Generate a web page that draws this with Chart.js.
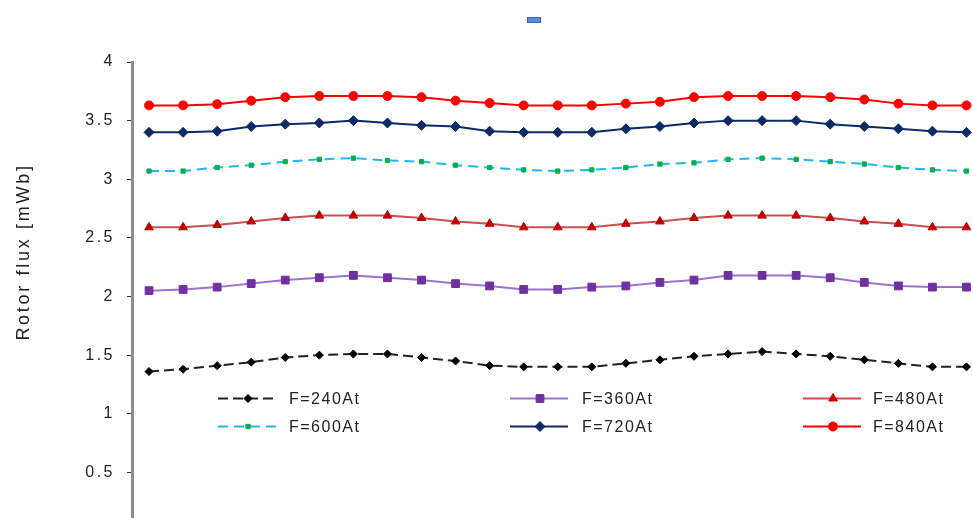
<!DOCTYPE html>
<html>
<head>
<meta charset="utf-8">
<script src="https://cdn.jsdelivr.net/npm/chart.js@4/dist/chart.umd.min.js"></script>
<style>
    html, body { margin: 0; padding: 0; background: #fff; overflow: hidden; }
    #wrap { width: 990px; height: 560px; }
</style>
</head>
<body>
<div id="wrap"><canvas id="flux-chart" width="990" height="560"></canvas></div>
<script>
// Rotor flux readings, one value per rotor position step.
var positions = ['1', '2', '3', '4', '5', '6', '7', '8', '9', '10', '11', '12', '13',
    '14', '15', '16', '17', '18', '19', '20', '21', '22', '23', '24', '25'];
var yTicks = [0, 0.5, 1, 1.5, 2, 2.5, 3, 3.5, 4];
var seriesNames = ['F=240At', 'F=360At', 'F=480At', 'F=600At', 'F=720At', 'F=840At'];

var flux240 = [1.36, 1.38, 1.41, 1.44, 1.48, 1.50, 1.51, 1.51, 1.48, 1.45, 1.41, 1.40, 1.40,
    1.40, 1.43, 1.46, 1.49, 1.51, 1.53, 1.51, 1.49, 1.46, 1.43, 1.40, 1.40];
var flux360 = [2.05, 2.06, 2.08, 2.11, 2.14, 2.16, 2.18, 2.16, 2.14, 2.11, 2.09, 2.06, 2.06,
    2.08, 2.09, 2.12, 2.14, 2.18, 2.18, 2.18, 2.16, 2.12, 2.09, 2.08, 2.08];
var flux480 = [2.59, 2.59, 2.61, 2.64, 2.67, 2.69, 2.69, 2.69, 2.67, 2.64, 2.62, 2.59, 2.59,
    2.59, 2.62, 2.64, 2.67, 2.69, 2.69, 2.69, 2.67, 2.64, 2.62, 2.59, 2.59];
var flux600 = [3.07, 3.07, 3.10, 3.12, 3.15, 3.17, 3.18, 3.16, 3.15, 3.12, 3.10, 3.08, 3.07,
    3.08, 3.10, 3.13, 3.14, 3.17, 3.18, 3.17, 3.15, 3.13, 3.10, 3.08, 3.07];
var flux720 = [3.40, 3.40, 3.41, 3.45, 3.47, 3.48, 3.50, 3.48, 3.46, 3.45, 3.41, 3.40, 3.40,
    3.40, 3.43, 3.45, 3.48, 3.50, 3.50, 3.50, 3.47, 3.45, 3.43, 3.41, 3.40];
var flux840 = [3.63, 3.63, 3.64, 3.67, 3.70, 3.71, 3.71, 3.71, 3.70, 3.67, 3.65, 3.63, 3.63,
    3.63, 3.645, 3.66, 3.70, 3.71, 3.71, 3.71, 3.70, 3.68, 3.645, 3.63, 3.63];

var FONT = '"Liberation Sans", Arial, sans-serif';

function series(label, data, line, marker, style, radius, dash) {
    return {
        label: label,
        data: data,
        borderColor: line,
        borderWidth: 2,
        borderDash: dash || [],
        pointStyle: style,
        pointRadius: radius,
        pointBackgroundColor: marker,
        pointBorderColor: marker,
        pointBorderWidth: 1,
        tension: 0,
        fill: false
    };
}

/**
 * Legend inside the plot area, y axis title and the small blue box on top.
 */
var extrasPlugin = {
    id: 'extras',
    beforeDraw: function (chart) {
        chart.ctx.letterSpacing = '2.5px';
    },
    afterDraw: function (chart) {
        var ctx = chart.ctx;
        var lineX = [218, 510, 803];
        var textX = [289, 582, 873];
        var rowY = [398.5, 426.5];

        ctx.save();
        chart.data.datasets.forEach(function (ds, i) {
            var col = i % 3;
            var y = rowY[Math.floor(i / 3)];
            ctx.letterSpacing = '0px';
            ctx.strokeStyle = ds.borderColor;
            ctx.lineWidth = ds.borderWidth;
            ctx.setLineDash(ds.borderDash);
            ctx.beginPath();
            ctx.moveTo(lineX[col], y);
            ctx.lineTo(lineX[col] + 58, y);
            ctx.stroke();
            ctx.setLineDash([]);
            ctx.fillStyle = ds.pointBackgroundColor;
            ctx.strokeStyle = ds.pointBorderColor;
            ctx.lineWidth = 1;
            Chart.helpers.drawPoint(ctx, {
                pointStyle: ds.pointStyle,
                radius: ds.pointRadius,
                borderWidth: 1,
                rotation: 0
            }, lineX[col] + 30, y);

            ctx.letterSpacing = '1.5px';
            ctx.font = '16px ' + FONT;
            ctx.fillStyle = '#222';
            ctx.textAlign = 'left';
            ctx.textBaseline = 'middle';
            ctx.fillText(ds.label, textX[col], y + 1);
        });

        // axis title
        ctx.letterSpacing = '2.7px';
        ctx.font = '18px ' + FONT;
        ctx.fillStyle = '#222';
        ctx.translate(24, 252);
        ctx.rotate(-Math.PI / 2);
        ctx.textAlign = 'center';
        ctx.textBaseline = 'middle';
        ctx.fillText('Rotor flux [mWb]', 0, 0);
        ctx.restore();

        ctx.save();
        ctx.fillStyle = '#5b8bd8';
        ctx.fillRect(527, 17, 14, 6);
        ctx.strokeStyle = '#4168ad';
        ctx.lineWidth = 1;
        ctx.strokeRect(527.5, 17.5, 13, 5);
        ctx.restore();
    }
};

var ctx = document.getElementById('flux-chart');
var chart = new Chart(ctx, {
    type: 'line',
    data: {
        labels: positions,
        datasets: [
            series(seriesNames[0], flux240, '#222222', '#000000', 'rectRot', 4, [10, 5]),
            series(seriesNames[1], flux360, '#9d72cc', '#7030a0', 'rect', 5.5),
            series(seriesNames[2], flux480, '#c94f4f', '#c00000', 'triangle', 5),
            series(seriesNames[3], flux600, '#22b5ee', '#00b050', 'rect', 3, [10, 6]),
            series(seriesNames[4], flux720, '#0e2a66', '#0e2a66', 'rectRot', 5),
            series(seriesNames[5], flux840, '#ff0000', '#ff0000', 'circle', 4.5)
        ]
    },
    options: {
        responsive: false,
        animation: false,
        layout: {
            padding: {top: 62, right: 5, bottom: 29, left: 0}
        },
        plugins: {
            legend: {display: false},
            tooltip: {enabled: false}
        },
        scales: {
            x: {
                display: false,
                offset: true
            },
            y: {
                min: 0,
                max: 4,
                afterBuildTicks: function (scale) {
                    scale.ticks = yTicks.map(function (v) {
                        return {value: v};
                    });
                },
                afterFit: function (scale) {
                    scale.width = 132;
                },
                border: {display: true, color: '#8c8c8c', width: 3},
                grid: {
                    drawOnChartArea: false,
                    drawTicks: true,
                    tickLength: 5,
                    tickColor: '#333',
                    tickWidth: 1
                },
                ticks: {
                    color: '#222',
                    padding: 12,
                    font: {family: FONT, size: 16},
                    callback: function (value) {
                        return String(value);
                    }
                }
            }
        }
    },
    plugins: [extrasPlugin]
});
</script>
</body>
</html>
